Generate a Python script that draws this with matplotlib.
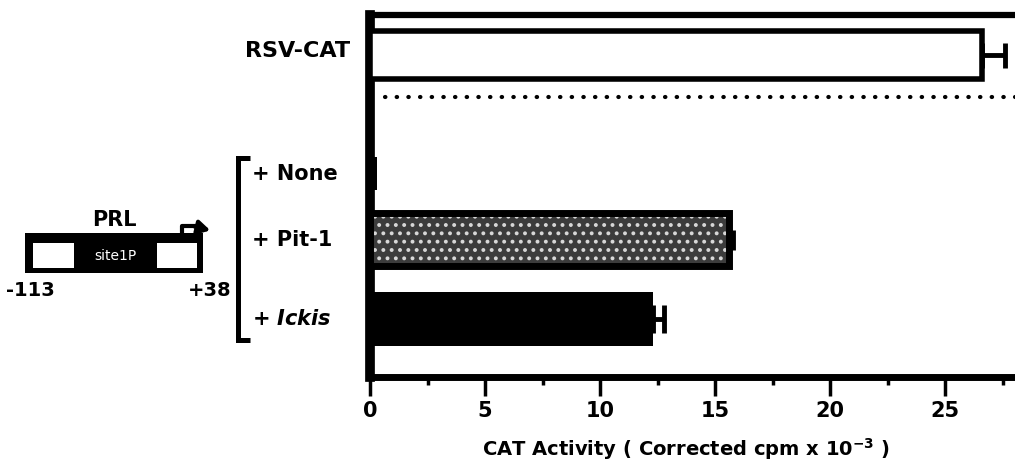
import matplotlib
matplotlib.use('Agg')
import matplotlib.pyplot as plt
import matplotlib.transforms as mtransforms
from matplotlib.patches import Rectangle

# ---- data ----
categories = ['RSV-CAT', '+ None', '+ Pit-1', '+ $\\mathit{Ickis}$']
values = [26.6, 0.3, 15.6, 12.3]
errors = [1.0, 0.15, 0.2, 0.5]
xticks = [0, 5, 10, 15, 20, 25]
xminor = [2.5, 7.5, 12.5, 17.5, 22.5, 27.5]
ypos = [0, 1.8, 2.8, 4.0]
xlabel = 'CAT Activity ( Corrected cpm x $10^{-3}$ )'

plt.rcParams['font.family'] = ['DejaVu Sans']
plt.rcParams['font.weight'] = 'bold'
plt.rcParams['mathtext.fontset'] = 'custom'
plt.rcParams['mathtext.rm'] = 'DejaVu Sans:bold'
plt.rcParams['mathtext.it'] = 'DejaVu Sans:italic:bold'
plt.rcParams['mathtext.bf'] = 'DejaVu Sans:bold'
plt.rcParams['hatch.linewidth'] = 1.6

W, H = 1015, 472
fig = plt.figure(figsize=(W / 100, H / 100), dpi=100)

# overlay axes in pixel coordinates for the schematic decorations
ax0 = fig.add_axes([0, 0, 1, 1])
ax0.set_xlim(0, W)
ax0.set_ylim(H, 0)
ax0.axis('off')

# main chart axes
ax = fig.add_axes([370 / W, 1 - 377 / H, 30 * 23 / W, (377 - 15) / H])
ax.set_xlim(0, 30)
ax.set_ylim(4.88, -0.606)

# bars
ax.barh(ypos[0], values[0], height=0.72, facecolor='white', edgecolor='black', linewidth=4, zorder=3)
ax.barh(ypos[1], values[1], height=0.5, facecolor='black', edgecolor='black', linewidth=0, zorder=3)
ax.barh(ypos[2], values[2], height=0.8, facecolor='#3c3c3c', edgecolor='#d8d8d8', hatch='..', linewidth=0, zorder=3)
ax.barh(ypos[2], values[2], height=0.8, facecolor='none', edgecolor='black', linewidth=5, zorder=4)
ax.barh(ypos[3], values[3], height=0.82, facecolor='black', edgecolor='black', linewidth=0, zorder=3)

# error bars (one-sided)
caps = [9, 0, 7, 10]
for y, v, e, c in zip(ypos, values, errors, caps):
    if c == 0:
        continue
    ax.errorbar(v, y, xerr=[[0], [e]], fmt='none', ecolor='black', elinewidth=3.5,
                capsize=c, capthick=3.5, zorder=5)

# dotted separator
ax.plot([0.65, 30], [0.636, 0.636], color='black', lw=3, ls=(0, (0.1, 2.7)),
        dash_capstyle='round', zorder=2)

# spines
ax.spines['right'].set_visible(False)
ax.spines['left'].set_linewidth(7)
ax.spines['bottom'].set_linewidth(5)
ax.spines['top'].set_linewidth(4.5)
for s in ('left', 'bottom', 'top'):
    ax.spines[s].set_capstyle('projecting')

# ticks
ax.set_xticks(xticks)
ax.set_xticks(xminor, minor=True)
ax.tick_params(axis='x', which='major', length=14, width=2.5, direction='out', pad=3, labelsize=15)
ax.tick_params(axis='x', which='minor', length=6, width=2.5, direction='out')
ax.set_yticks([])
for lbl in ax.get_xticklabels():
    lbl.set_fontweight('bold')

# category labels
trans = mtransforms.blended_transform_factory(fig.transFigure, ax.transData)
ax.text(350 / W, ypos[0] - 0.06, categories[0], transform=trans, ha='right', va='center',
        fontsize=16, fontweight='bold', clip_on=False)
for y, c in zip(ypos[1:], categories[1:]):
    ax.text(252 / W, y, c, transform=trans, ha='left', va='center',
            fontsize=15, fontweight='bold', clip_on=False)

# x label
fig.text(686 / W, 1 - 449 / H, xlabel, ha='center', va='center', fontsize=14, fontweight='bold')

# bracket
ax0.plot([250, 238, 238, 250], [158, 158, 340, 340], color='black', lw=3.6, solid_capstyle='butt',
         solid_joinstyle='miter')

# PRL promoter schematic
ax0.add_patch(Rectangle((25, 233), 178, 40, facecolor='black', edgecolor='none'))
ax0.add_patch(Rectangle((33, 243), 41, 25, facecolor='white', edgecolor='none'))
ax0.add_patch(Rectangle((157, 243), 40, 25, facecolor='white', edgecolor='none'))
ax0.text(115, 256, 'site1P', color='white', fontsize=10, fontweight='normal', ha='center', va='center')
ax0.text(114, 220, 'PRL', fontsize=15, fontweight='bold', ha='center', va='center')
ax0.text(30, 290, '-113', fontsize=14, fontweight='bold', ha='center', va='center')
ax0.text(210, 290, '+38', fontsize=14, fontweight='bold', ha='center', va='center')
ax0.plot([182, 182, 196], [234, 226, 226], color='black', lw=3, solid_joinstyle='round')
ax0.annotate('', xy=(213, 231), xytext=(192, 226),
             arrowprops=dict(arrowstyle='-|>,head_length=0.7,head_width=0.4', color='black', lw=3))

fig.savefig('out.png', dpi=100)
